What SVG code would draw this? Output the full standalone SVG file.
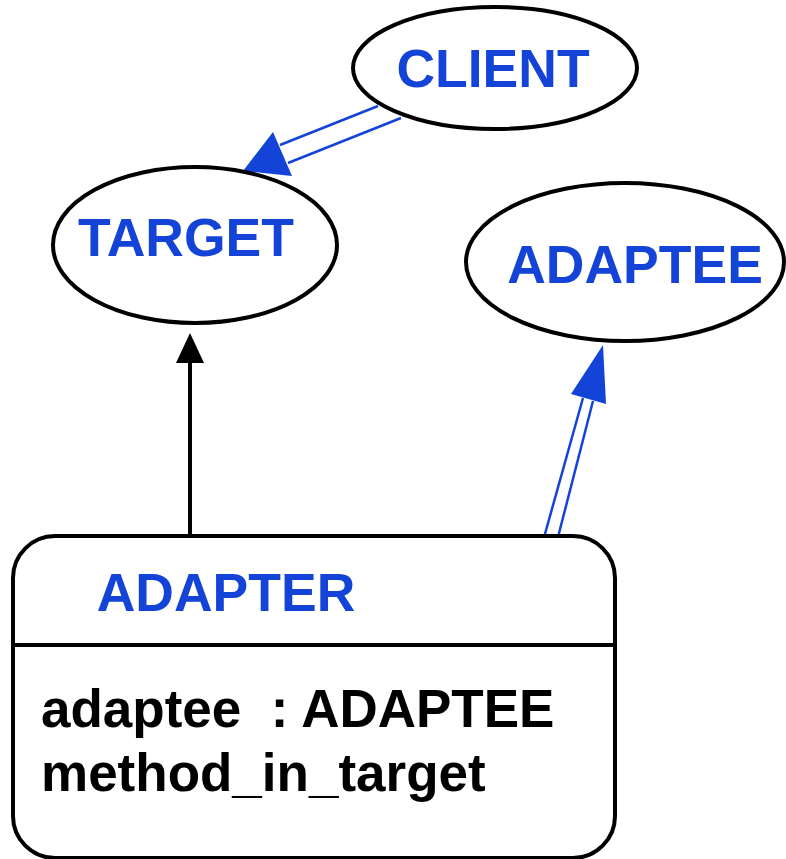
<svg xmlns="http://www.w3.org/2000/svg" width="786" height="859" viewBox="0 0 786 859">
<style>
.node{fill:#fff;stroke:#000;stroke-width:4}
.t{font-family:"Liberation Sans",Arial,sans-serif;font-weight:bold;font-size:53.5px}
.blue{fill:#1443d8}
.blk{fill:#000;font-size:53px}
.bl{stroke:#1443d8;stroke-width:2.5;fill:none}
</style>
<g id="connectors">
<line x1="378" y1="106" x2="280" y2="145" class="bl"/>
<line x1="401" y1="118" x2="288" y2="163" class="bl"/>
<polygon points="243,171 273,132 292,176" class="blue"/>
<line x1="543" y1="541" x2="583" y2="398" class="bl"/>
<line x1="557" y1="541" x2="593" y2="401" class="bl"/>
<polygon points="603,345 571,394 606,404" class="blue"/>
<line x1="190" y1="360" x2="190" y2="535" stroke="#000" stroke-width="4"/>
<polygon points="190,333 176,363 204,363" fill="#000"/>
</g>
<g id="client">
<ellipse cx="495" cy="68" rx="142" ry="61" class="node"/>
<text x="493" y="87" text-anchor="middle" class="t blue">CLIENT</text>
</g>
<g id="target">
<ellipse cx="195" cy="245" rx="142" ry="78" class="node"/>
<text x="186" y="256" text-anchor="middle" class="t blue">TARGET</text>
</g>
<g id="adaptee">
<ellipse cx="625" cy="262" rx="159" ry="79" class="node"/>
<text x="635" y="283" text-anchor="middle" class="t blue">ADAPTEE</text>
</g>
<g id="adapter">
<rect x="13" y="536" width="602" height="322" rx="42" ry="42" class="node"/>
<line x1="13" y1="645" x2="615" y2="645" stroke="#000" stroke-width="4"/>
<text x="226" y="611" text-anchor="middle" class="t blue">ADAPTER</text>
<text x="41" y="727" class="t blk" xml:space="preserve">adaptee  : ADAPTEE</text>
<text x="41" y="791" class="t blk">method_in_target</text>
</g>
</svg>
